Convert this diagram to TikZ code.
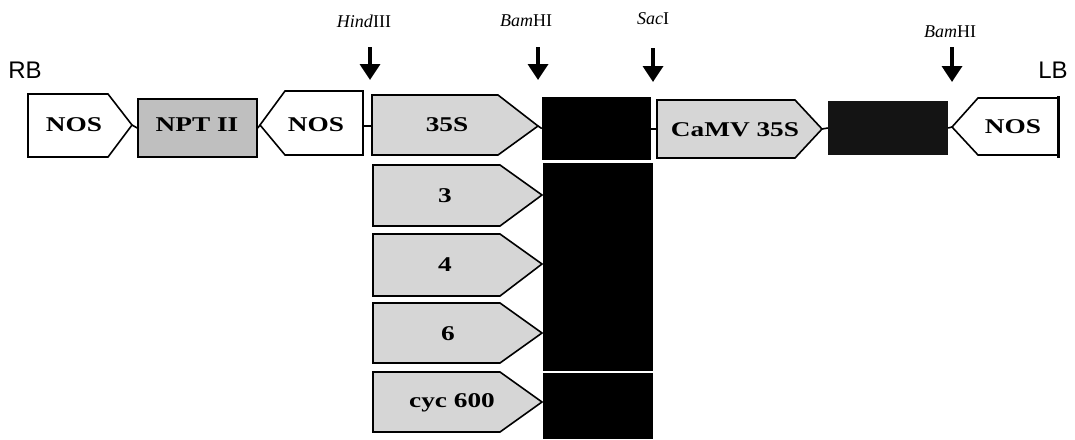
\documentclass[tikz,border=0pt]{standalone}
\usepackage{fontspec}
\setmainfont{Liberation Serif}
\newfontfamily\boxfont[FakeStretch=1.3]{Liberation Serif}
\newfontfamily\bordfont{Liberation Sans}
\usetikzlibrary{arrows.meta}
\definecolor{promgray}{HTML}{D6D6D6}
\definecolor{nptgray}{HTML}{BFBFBF}
\begin{document}
\begin{tikzpicture}[x=1pt,y=-1pt,
  box/.style={draw=black, line width=1.6pt, line join=miter},
  wbox/.style={box, fill=white},
  pbox/.style={box, fill=promgray},
  blk/.style={fill=black, draw=none, inner sep=0pt},
  lbl/.style={font=\boxfont\bfseries\fontsize{21}{21}\selectfont, inner sep=0pt},
  site/.style={font=\fontsize{18}{18}\selectfont, inner sep=0pt},
  bord/.style={font=\bordfont\fontsize{24}{24}\selectfont, inner sep=0pt},
  conn/.style={line width=1.6pt},
  cut/.style={line width=3.5pt, -{Triangle[width=20pt,length=16pt]}}
]
\useasboundingbox (0,0) rectangle (1075,439);

% border labels
\node[bord] (rb) at (25,70) {RB};
\node[bord] (lb) at (1053,70) {LB};

% NOS 1 (pointing right)
\draw[wbox] (28,94) -- (108,94) -- (132,125) -- (108,157) -- (28,157) -- cycle;
\coordinate (nos1tip) at (132,125);
\node[lbl] (nos1) at (74,125) {NOS};

% NPT II
\node[box, fill=nptgray, minimum width=119pt, minimum height=58pt, inner sep=0pt] (npt) at (197.5,128) {};
\node[lbl] (npttxt) at (197,125) {NPT II};

% NOS 2 (pointing left)
\draw[wbox] (363,91) -- (285,91) -- (260,125) -- (285,155) -- (363,155) -- cycle;
\coordinate (nos2tip) at (260,125);
\coordinate (nos2R) at (363,126);
\node[lbl] (nos2) at (316,125) {NOS};

% 35S
\draw[pbox] (372,95) -- (498,95) -- (538,126) -- (498,155) -- (372,155) -- cycle;
\coordinate (p35L) at (372,126);
\coordinate (p35tip) at (538,126);
\node[lbl] (p35) at (447,125) {35S};

% black box 1
\node[blk, minimum width=109pt, minimum height=63pt] (blk1) at (596.5,128.5) {};

% CaMV 35S
\draw[pbox] (657,100) -- (795,100) -- (822,129) -- (795,158) -- (657,158) -- cycle;
\coordinate (camvL) at (657,129);
\coordinate (camvtip) at (822,129);
\node[lbl] (camv) at (735,130) {CaMV 35S};

% black box 2
\node[blk, fill=black!92, minimum width=120pt, minimum height=54pt] (blk2) at (888,128) {};

% NOS 3 (pointing left)
\draw[wbox] (1058,98) -- (978,98) -- (952,127) -- (978,155) -- (1058,155);
\draw[line width=3pt] (1058,96) -- (1058,158);
\coordinate (nos3tip) at (952,127);
\node[lbl] (nos3) at (1013,127) {NOS};

% connectors
\draw[conn] (nos1tip) -- (npt.west);
\draw[conn] (npt.east) -- (nos2tip);
\draw[conn] (nos2R) -- (p35L);
\draw[conn] (p35tip) -- (blk1.west);
\draw[conn] (blk1.east |- camvL) -- (camvL);
\draw[conn] (camvtip) -- (blk2.west);
\draw[conn] (blk2.east) -- (nos3tip);

% variant promoters
\draw[pbox] (373,165) -- (500,165) -- (542,195) -- (500,226) -- (373,226) -- cycle;
\node[lbl] (v3) at (445,196) {3};
\draw[pbox] (373,234) -- (500,234) -- (542,264) -- (500,296) -- (373,296) -- cycle;
\node[lbl] (v4) at (445,265) {4};
\draw[pbox] (373,303) -- (500,303) -- (542,333) -- (500,363) -- (373,363) -- cycle;
\node[lbl] (v6) at (448,334) {6};
\draw[pbox] (373,372) -- (500,372) -- (542,402) -- (500,432) -- (373,432) -- cycle;
\node[lbl] (v600) at (452,403) {cyc 600};

% black columns
\node[blk, minimum width=110pt, minimum height=208pt] (blkA) at (598,267) {};
\node[blk, minimum width=110pt, minimum height=66pt] (blkB) at (598,406) {};

% restriction sites
\node[site] (hind) at (364,21) {\textit{Hind}III};
\node[site] (bam1) at (526,21) {\textit{Bam}HI};
\node[site] (sac) at (653,19) {\textit{Sac}I};
\node[site] (bam2) at (950,32) {\textit{Bam}HI};

\coordinate (hindA) at (370,47); \coordinate (hindB) at (370,80);
\coordinate (bam1A) at (538,47); \coordinate (bam1B) at (538,80);
\coordinate (sacA) at (653,48);  \coordinate (sacB) at (653,82);
\coordinate (bam2A) at (952,47); \coordinate (bam2B) at (952,82);
\draw[cut] (hindA) -- (hindB);
\draw[cut] (bam1A) -- (bam1B);
\draw[cut] (sacA) -- (sacB);
\draw[cut] (bam2A) -- (bam2B);
\end{tikzpicture}
\end{document}
